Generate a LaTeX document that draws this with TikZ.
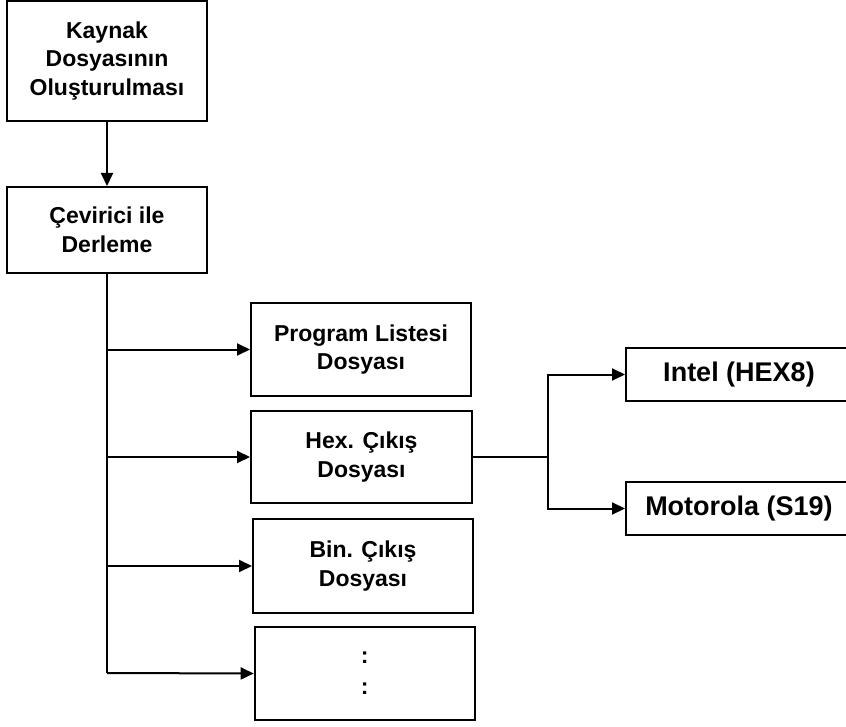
\documentclass[tikz,border=0pt]{standalone}
\usepackage{fontspec}
\setmainfont{Liberation Sans}
\usetikzlibrary{arrows.meta}
\begin{document}
\begin{tikzpicture}[x=1pt,y=-1pt,
  box/.style={draw, line width=2pt, rectangle, inner sep=0pt, align=center,
    font=\bfseries\fontsize{23}{28.5}\selectfont},
  bigbox/.style={box, font=\bfseries\fontsize{27}{32}\selectfont},
  conn/.style={line width=2pt},
  arr/.style={conn, -{Triangle[length=13pt,width=12pt]}}]
\useasboundingbox (0,0) rectangle (846,727);
\clip (0,0) rectangle (846,727);
\node[box, minimum width=200pt, minimum height=120pt] (src) at (107,61) {Kaynak\\Dosyasının\\Oluşturulması};
\node[box, minimum width=200pt, minimum height=86pt] (asm) at (107,230) {Çevirici ile\\Derleme};
\node[box, minimum width=220pt, minimum height=93pt] (lst) at (361,349.5) {Program Listesi\\Dosyası};
\node[box, minimum width=221pt, minimum height=92pt] (hex) at (361.5,457) {Hex. Çıkış\\Dosyası};
\node[box, minimum width=220pt, minimum height=94pt] (bin) at (363,566) {Bin. Çıkış\\Dosyası};
\node[box, minimum width=220pt, minimum height=93pt, font=\bfseries\fontsize{23}{31}\selectfont] (etc) at (364.7,673.5) {:\\:};
\node[bigbox, minimum width=226pt, minimum height=53pt] (intel) at (739,374.5) {Intel (HEX8)};
\node[bigbox, minimum width=226pt, minimum height=53pt] (moto) at (739,508.5) {Motorola (S19)};
\coordinate (tend) at (107,673);
\coordinate (jn) at (548,457);
\draw[arr] (src) -- (asm);
\draw[conn] (asm.south) -- (tend);
\draw[arr] (asm.south |- lst.west) -- (lst.west);
\draw[arr] (asm.south |- hex.west) -- (hex.west);
\draw[arr] (asm.south |- bin.west) -- (bin.west);
\draw[arr] (tend) -- (etc.west);
\draw[conn] (hex.east) -- (jn);
\draw[arr] (jn) |- (intel.west);
\draw[arr] (jn) |- (moto.west);
\end{tikzpicture}
\end{document}
